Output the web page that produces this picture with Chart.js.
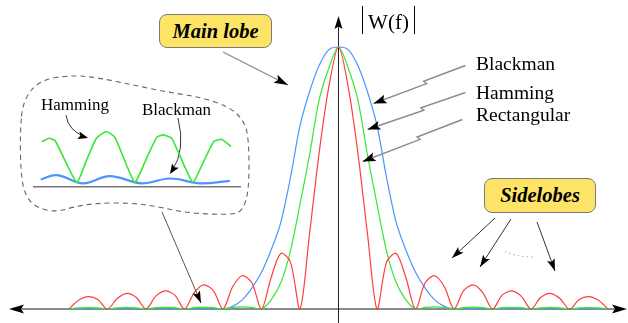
<!DOCTYPE html>
<html>
<head>
<meta charset="utf-8">
<script src="https://cdn.jsdelivr.net/npm/chart.js@4.4.0/dist/chart.umd.min.js"></script>
<style>
	html, body { margin: 0; padding: 0; background: #fff; }
	#wrap { position: relative; width: 628px; height: 323px; overflow: hidden; }
	canvas { position: absolute; }
	.lbl { position: absolute; font-family: 'Liberation Serif', 'DejaVu Serif', serif; line-height: 1; white-space: nowrap; color: #000; }
	.box {
		position: absolute; box-sizing: border-box; display: flex; align-items: center; justify-content: center;
		background: #fde467; border: 1px solid #7a7a7a; border-radius: 8px;
		font-family: 'Liberation Serif', serif; font-weight: bold; font-style: italic; font-size: 20.5px; color: #000;
	}
	.mag { position: absolute; box-sizing: border-box; border-left: 1px solid #000; border-right: 1px solid #000;
		font-family: 'Liberation Serif', serif; font-size: 21px; line-height: 1; text-align: center; }
</style>
</head>
<body>
<div id="wrap">
	<canvas id="main-chart" width="628" height="323" style="left:0;top:0"></canvas>
	<canvas id="inset-chart" width="220" height="75" style="left:30px;top:120px"></canvas>
	<div class="box" style="left:159px;top:14px;width:113px;height:34px">Main lobe</div>
	<div class="box" style="left:484px;top:178px;width:112px;height:35px">Sidelobes</div>
	<div class="mag" style="left:362px;top:6px;width:53px;height:28px;padding-top:6px">W(f)</div>
	<div class="lbl" style="left:476px;top:54px;font-size:19.5px">Blackman</div>
	<div class="lbl" style="left:476px;top:83px;font-size:19.5px">Hamming</div>
	<div class="lbl" style="left:476px;top:105px;font-size:19.5px">Rectangular</div>
	<div class="lbl" style="left:41px;top:96px;font-size:17px">Hamming</div>
	<div class="lbl" style="left:142px;top:101px;font-size:17px">Blackman</div>
</div>
<script>
// frequency in units of 1/T (right half, the response is symmetric)
const freqs = [0, 0.25, 0.5, 0.75, 1, 1.25, 1.5, 1.75, 2, 2.25, 2.5, 2.75, 3, 3.25, 3.5, 3.75, 4, 4.25, 4.5, 4.75, 5, 5.25, 5.5, 5.75, 6, 6.25, 6.5, 6.75, 7];
const rectangular = [1, 0.85, 0.6, 0.29, 0, 0.18, 0.212, 0.12, 0, 0.1, 0.127, 0.085, 0, 0.07, 0.092, 0.062, 0, 0.053, 0.069, 0.048, 0, 0.044, 0.06, 0.04, 0, 0.036, 0.047, 0.033, 0];
const hamming = [1, 0.92, 0.8, 0.59, 0.4, 0.22, 0.1, 0.035, 0, 0.006, 0.008, 0.006, 0, 0.005, 0.007, 0.005, 0, 0.005, 0.006, 0.005, 0, 0.004, 0.006, 0.004, 0, 0.004, 0.005, 0.004, 0];
const blackman = [1, 0.99, 0.93, 0.83, 0.7, 0.5, 0.33, 0.225, 0.14, 0.08, 0.035, 0.01, 0, 0.002, 0.003, 0.002, 0, 0.002, 0.003, 0.002, 0, 0.002, 0.002, 0.002, 0, 0.001, 0.002, 0.001, 0];

// zoomed-in sidelobes shown in the dashed inset
const insetHammingF = [2.4, 2.52, 2.63, 3, 3.17, 3.34, 3.51, 3.66, 4, 4.19, 4.38, 4.49, 4.64, 5, 5.18, 5.36, 5.5, 5.66];
const insetHamming = [0.93, 1, 0.95, 0.09, 0.55, 1, 1.14, 1.02, 0.09, 0.55, 1.02, 1.07, 1, 0.09, 0.5, 0.93, 0.98, 0.83];
const insetBlackmanF = [2.38, 2.66, 3.11, 3.57, 4.12, 4.61, 5.13, 5.64];
const insetBlackman = [0.15, 0.24, 0.07, 0.22, 0.07, 0.17, 0.07, 0.12];

const RED = '#ff3d3d';
const GREEN = '#35e835';
const BLUE = '#4d94ff';

function mirrored(values) {
	const pts = [];
	for (let i = freqs.length - 1; i > 0; i--) pts.push({ x: -freqs[i], y: values[i] });
	freqs.forEach((f, i) => pts.push({ x: f, y: values[i] }));
	return pts;
}

function arrowHead(ctx, from, to, len, half) {
	const a = Math.atan2(to[1] - from[1], to[0] - from[0]);
	const c = Math.cos(a), s = Math.sin(a);
	ctx.beginPath();
	ctx.moveTo(to[0], to[1]);
	ctx.lineTo(to[0] - len * c + half * s, to[1] - len * s - half * c);
	ctx.lineTo(to[0] - len * c * 0.8, to[1] - len * s * 0.8);
	ctx.lineTo(to[0] - len * c - half * s, to[1] - len * s + half * c);
	ctx.closePath();
	ctx.fill();
}

function arrow(ctx, from, to, color, width, len, half) {
	ctx.strokeStyle = color;
	ctx.lineWidth = width;
	ctx.beginPath();
	ctx.moveTo(from[0], from[1]);
	ctx.lineTo(to[0], to[1]);
	ctx.stroke();
	ctx.fillStyle = '#000';
	arrowHead(ctx, from, to, len, half);
}

// line with a small Z-shaped kink half way
function boltArrow(ctx, from, to) {
	const dx = to[0] - from[0], dy = to[1] - from[1];
	const L = Math.hypot(dx, dy);
	const ux = dx / L, uy = dy / L;
	const nx = -uy, ny = ux;
	const t = 0.44 * L;
	const off = 1.6;
	const a = [from[0] + ux * (t + 1) + nx * off, from[1] + uy * (t + 1) + ny * off];
	const b = [from[0] + ux * (t - 1) - nx * off, from[1] + uy * (t - 1) - ny * off];
	const end = [to[0] - nx * off, to[1] - ny * off];
	ctx.strokeStyle = '#8c8c8c';
	ctx.lineWidth = 1.4;
	ctx.beginPath();
	ctx.moveTo(from[0] + nx * off, from[1] + ny * off);
	ctx.lineTo(a[0], a[1]);
	ctx.lineTo(b[0], b[1]);
	ctx.lineTo(end[0], end[1]);
	ctx.stroke();
	ctx.fillStyle = '#000';
	arrowHead(ctx, b, end, 13, 4.5);
}

function smoothClosed(ctx, pts) {
	const n = pts.length;
	const mid = (p, q) => [(p[0] + q[0]) / 2, (p[1] + q[1]) / 2];
	const m0 = mid(pts[n - 1], pts[0]);
	ctx.beginPath();
	ctx.moveTo(m0[0], m0[1]);
	for (let i = 0; i < n; i++) {
		const m = mid(pts[i], pts[(i + 1) % n]);
		ctx.quadraticCurveTo(pts[i][0], pts[i][1], m[0], m[1]);
	}
	ctx.closePath();
}

const cloudOutline = [[23, 100], [40, 80], [72, 75], [100, 78], [133, 85], [167, 92], [200, 97], [230, 107], [245, 122], [249, 143],
	[249, 190], [243, 210], [233, 215], [187, 213], [160, 207], [133, 203], [97, 203], [73, 207], [57, 212], [37, 208], [26, 197], [21, 177], [20, 133]];

const decorations = {
	id: 'decorations',
	beforeDatasetsDraw(chart) {
		const ctx = chart.ctx;
		const x = chart.scales.x, y = chart.scales.y;
		const y0 = y.getPixelForValue(0);
		const x0 = x.getPixelForValue(0);
		ctx.save();
		// frequency axis
		ctx.strokeStyle = '#8a8a8a';
		ctx.lineWidth = 2;
		ctx.beginPath();
		ctx.moveTo(14, y0);
		ctx.lineTo(622, y0);
		ctx.stroke();
		ctx.fillStyle = '#000';
		arrowHead(ctx, [30, y0], [9, y0], 15, 4.5);
		arrowHead(ctx, [600, y0], [627, y0], 15, 4.5);
		// magnitude axis
		ctx.strokeStyle = '#222';
		ctx.lineWidth = 1;
		ctx.beginPath();
		ctx.moveTo(x0, 323);
		ctx.lineTo(x0, 22);
		ctx.stroke();
		arrowHead(ctx, [x0, 60], [x0, 16], 13, 4);
		ctx.restore();
	},
	afterDraw(chart) {
		const ctx = chart.ctx;
		ctx.save();
		// dashed inset outline
		ctx.setLineDash([5, 4]);
		ctx.strokeStyle = '#666';
		ctx.lineWidth = 1.1;
		smoothClosed(ctx, cloudOutline);
		ctx.stroke();
		ctx.setLineDash([]);

		// inset label arrows
		ctx.strokeStyle = '#333';
		ctx.lineWidth = 1;
		ctx.beginPath();
		ctx.moveTo(66, 115);
		ctx.quadraticCurveTo(68, 131, 86, 137);
		ctx.stroke();
		ctx.fillStyle = '#000';
		arrowHead(ctx, [74, 134], [88, 138], 10, 4);
		ctx.beginPath();
		ctx.moveTo(178, 118);
		ctx.quadraticCurveTo(186, 150, 172, 171);
		ctx.stroke();
		arrowHead(ctx, [179, 160], [170, 174], 10, 4);

		// inset to main sidelobes
		arrow(ctx, [162, 212], [201, 303], '#555', 1, 12, 4);
		// main lobe callout
		arrow(ctx, [223, 52], [288, 85], '#8c8c8c', 1.4, 14, 4.5);
		// window name arrows
		boltArrow(ctx, [466, 67], [373, 102]);
		boltArrow(ctx, [466, 94], [367, 128]);
		boltArrow(ctx, [463, 121], [362, 160]);
		// sidelobe callouts
		arrow(ctx, [495, 218], [452, 258], '#333', 1, 12, 4);
		arrow(ctx, [511, 219], [480, 267], '#333', 1, 12, 4);
		arrow(ctx, [537, 222], [555, 271], '#333', 1, 12, 4);
		ctx.setLineDash([1, 3.5]);
		ctx.strokeStyle = '#777';
		ctx.beginPath();
		ctx.moveTo(505, 252);
		ctx.quadraticCurveTo(518, 257, 533, 257);
		ctx.stroke();
		ctx.restore();
	}
};

new Chart(document.getElementById('main-chart'), {
	type: 'line',
	data: {
		datasets: [
			{ label: 'Rectangular', data: mirrored(rectangular), borderColor: RED },
			{ label: 'Hamming', data: mirrored(hamming), borderColor: GREEN },
			{ label: 'Blackman', data: mirrored(blackman), borderColor: BLUE }
		]
	},
	options: {
		responsive: false,
		animation: false,
		events: [],
		layout: { padding: 0 },
		elements: {
			point: { radius: 0 },
			line: { tension: 0.3, borderWidth: 1.2, fill: false }
		},
		scales: {
			x: { type: 'linear', min: -8.792, max: 7.519, display: false },
			y: { type: 'linear', min: -0.0534, max: 1.1794, display: false }
		},
		plugins: { legend: { display: false }, tooltip: { enabled: false } }
	},
	plugins: [decorations]
});

const insetBaseline = {
	id: 'insetBaseline',
	beforeDatasetsDraw(chart) {
		const ctx = chart.ctx;
		const y0 = chart.scales.y.getPixelForValue(0);
		ctx.save();
		ctx.strokeStyle = '#777';
		ctx.lineWidth = 1.6;
		ctx.beginPath();
		ctx.moveTo(chart.scales.x.getPixelForValue(2.247), y0);
		ctx.lineTo(chart.scales.x.getPixelForValue(5.833), y0);
		ctx.stroke();
		ctx.restore();
	}
};

new Chart(document.getElementById('inset-chart'), {
	type: 'line',
	data: {
		datasets: [
			{ data: insetHammingF.map((f, i) => ({ x: f, y: insetHamming[i] })), borderColor: GREEN, borderWidth: 1.6, tension: 0.15 },
			{ data: insetBlackmanF.map((f, i) => ({ x: f, y: insetBlackman[i] })), borderColor: BLUE, borderWidth: 2.2, tension: 0.4 }
		]
	},
	options: {
		responsive: false,
		animation: false,
		events: [],
		layout: { padding: 0 },
		elements: { point: { radius: 0 } },
		scales: {
			x: { type: 'linear', min: 2.195, max: 5.988, display: false },
			y: { type: 'linear', min: -0.171, max: 1.378, display: false }
		},
		plugins: { legend: { display: false }, tooltip: { enabled: false } }
	},
	plugins: [insetBaseline]
});
</script>
</body>
</html>
